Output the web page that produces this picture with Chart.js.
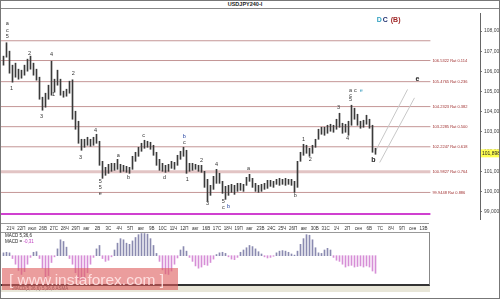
<!DOCTYPE html>
<html>
<head>
<meta charset="utf-8">
<script src="https://cdn.jsdelivr.net/npm/chart.js@4.4.1/dist/chart.umd.min.js"></script>
<style>
  html, body { margin: 0; padding: 0; }
  body { width: 500px; height: 299px; position: relative; overflow: hidden; background: #fff; font-family: "Liberation Sans", "DejaVu Sans", sans-serif; }
  #frame { position: absolute; left: 0; top: 0; width: 498px; height: 297px; border: 1px solid #777; }
  #head { position: absolute; left: 0; top: 0; width: 500px; height: 8px; border-bottom: 1px solid #888; }
  #title { position: absolute; left: 0; top: 1px; width: 490px; text-align: center; font: bold 5.5px "Liberation Sans", sans-serif; color: #222; line-height: 7px; }
  canvas { position: absolute; }
  #main { left: 0; top: 8px; }
  #macd { left: 0; top: 224px; }
  #strip { position: absolute; left: 0; top: 223px; width: 429px; height: 8px; border-top: 1px solid #999; border-bottom: 1px solid #999; }
  #panel { position: absolute; left: 0; top: 232px; width: 429px; height: 52px; border-right: 1px solid #888; border-bottom: 2px solid #333; }
  #beige { position: absolute; left: 0; top: 286px; width: 430px; height: 6px; background: #e8e6d8; }
  #foot { position: absolute; left: 12px; top: 286px; font: 4.5px "Liberation Sans", sans-serif; color: #555; }
  .mlab { position: absolute; left: 5px; font: 4.5px "Liberation Sans", sans-serif; color: #222; }
  #wm { position: absolute; left: 2px; top: 268px; width: 176px; height: 22px; background: rgba(222, 92, 92, 0.6);
        color: rgba(255, 228, 228, 0.92); font: 15.5px "Liberation Sans", sans-serif; line-height: 23px; white-space: nowrap; text-indent: 7px; }
</style>
</head>
<body>
<div id="head"></div>
<div id="title">USDJPY240-I</div>
<canvas id="main" width="500" height="216"></canvas>
<div id="strip"></div>
<div id="panel"></div>
<canvas id="macd" width="431" height="61"></canvas>
<div class="mlab" style="top:233px">MACD 5,36,6</div>
<div class="mlab" style="top:239px">MACD = <span style="color:#c040c0">-0,31</span></div>
<div id="beige"></div>
<div id="foot">MACD(5,36,6) 5,36,6 ASMA</div>
<div id="wm">[ www.instaforex.com ]</div>
<div id="frame"></div>
<script>
// 4h bars (one bar here ~ 1.7 source bars)
const lows = [
  106.3, 106.7, 105.9, 105.45, 105.7, 105.6, 105.65, 105.8, 106.0, 106.1,
  105.8, 105.55, 104.6, 104.05, 104.2, 104.6, 104.8, 104.95, 105.3, 104.8,
  104.7, 104.75, 104.9, 103.6, 103.1, 102.4, 102.05, 102.2, 102.3, 102.25,
  102.3, 102.4, 101.3, 100.65, 100.8, 100.9, 101.0, 101.05, 101.1, 100.95,
  101.0, 100.95, 100.9, 101.1, 101.5, 101.75, 102.0, 102.15, 102.2, 102.1,
  101.8, 101.3, 101.05, 101.0, 100.95, 101.0, 101.15, 101.1, 101.3, 101.6,
  101.75, 100.9, 101.0, 101.05, 101.1, 101.0, 100.95, 100.2, 99.5, 99.8,
  100.1, 100.4, 100.4, 99.9, 99.6, 99.8, 99.95, 99.85, 100.0, 100.05,
  100.0, 100.3, 100.5, 100.2, 100.0, 99.95, 100.0, 100.1, 100.15, 100.25,
  100.2, 100.35, 100.3, 100.35, 100.3, 100.35, 100.3, 99.95, 100.2, 101.5,
  101.8, 101.9, 101.75, 101.9, 102.2, 102.6, 102.85, 102.8, 102.9, 103.0,
  102.95, 103.1, 103.2, 102.9, 102.95, 102.8, 103.3, 103.6, 103.3, 103.15,
  103.2, 103.35, 103.15, 101.95, 101.85
];
const highs = [
  106.75, 107.42, 107.0, 106.3, 106.4, 106.1, 106.05, 106.3, 106.6, 106.75,
  106.4, 106.1, 105.7, 104.7, 104.9, 105.3, 106.5, 105.6, 106.05, 105.6,
  105.0, 105.1, 105.5, 105.57, 104.0, 103.5, 102.6, 102.6, 102.7, 102.6,
  102.7, 102.85, 102.5, 101.5, 101.2, 101.35, 101.4, 101.4, 101.6, 101.35,
  101.3, 101.25, 101.2, 101.75, 101.95, 102.2, 102.4, 102.55, 102.5, 102.45,
  102.3, 101.95, 101.6, 101.4, 101.3, 101.35, 101.5, 101.45, 101.8, 102.0,
  102.2, 102.05, 101.4, 101.4, 101.35, 101.3, 101.3, 101.0, 100.6, 100.3,
  100.75, 101.1, 100.9, 100.5, 100.25, 100.3, 100.35, 100.3, 100.4, 100.4,
  100.35, 100.7, 100.85, 100.65, 100.4, 100.3, 100.35, 100.4, 100.55, 100.55,
  100.5, 100.6, 100.65, 100.6, 100.65, 100.6, 100.6, 100.5, 101.5, 101.95,
  102.35, 102.3, 102.15, 102.3, 102.6, 103.1, 103.2, 103.2, 103.3, 103.35,
  103.3, 103.6, 103.9, 103.4, 103.35, 103.5, 104.3, 104.15, 103.85, 103.5,
  103.55, 103.8, 103.6, 103.3, 102.15
];
const macdHist = [
  0.05, 0.06, 0.05, -0.05, -0.15, -0.26, -0.33, -0.28, -0.15, -0.03,
  0.06, 0.07, -0.05, -0.22, -0.42, -0.35, -0.12, -0.02, 0.12, 0.28,
  0.25, 0.15, -0.05, -0.15, -0.3, -0.42, -0.46, -0.42, -0.3, -0.15,
  -0.03, 0.12, 0.18, -0.05, -0.1, -0.08, -0.02, 0.1, 0.22, 0.3,
  0.28, 0.22, 0.2, 0.26, 0.32, 0.37, 0.39, 0.39, 0.38, 0.3,
  0.18, 0.04, -0.1, -0.25, -0.32, -0.33, -0.27, -0.15, -0.04, 0.1,
  0.16, 0.08, -0.03, -0.1, -0.18, -0.22, -0.2, -0.16, -0.17, -0.12,
  -0.06, 0.02, 0.05, 0.06, 0.04, -0.02, -0.06, -0.07, -0.03, 0.06,
  0.1, 0.14, 0.18, 0.16, 0.12, 0.07, 0.03, -0.02, -0.04, -0.03,
  -0.01, 0.05, 0.08, 0.09, 0.08, 0.06, 0.03, 0.01, 0.08, 0.2,
  0.3, 0.37, 0.36, 0.28, 0.14, 0.05, 0.04, 0.1, 0.13, 0.1,
  -0.03, -0.08, -0.1, -0.15, -0.2, -0.18, -0.17, -0.2, -0.19, -0.18,
  -0.2, -0.18, -0.2, -0.27, -0.31
];

const fibLevels = [107.5187, 106.5322, 105.4765, 104.2323, 103.2285, 102.2247, 100.9827, 99.9448, 98.866];
const fibRatios = ["0", "0.114", "0.236", "0.382", "0.500", "0.618", "0.764", "0.886", "1"];
const priceTicks = [99, 100, 101, 102, 103, 104, 105, 106, 107, 108];
const lastPrice = 101.898;

const dayLabels = ["21Ч","22П","июл","26В","27С","28Ч","29П","авг","2В","3С","4Ч","5П","авг","9В","10С","11Ч","12П",
  "авг","16В","17С","18Ч","19П","авг","23В","24С","25Ч","26П","авг","30В","31С","1Ч","2П","сен","6В","7С","8Ч","9П","сен","13В"];

// wave marks: [bar, price, text, colour]
const waveLabels = [
  [1.3, 108.38, "a"], [1.3, 108.05, "c"], [1.3, 107.71, "5"],
  [2.7, 105.14, "1"], [8.7, 106.9, "2"], [16, 106.81, "4"], [16.7, 104.86, "1"], [23.3, 105.9, "2"],
  [12.7, 103.76, "3"], [30.7, 103.05, "4"], [25.7, 101.71, "3"],
  [32.3, 100.48, "5"], [32.3, 100.19, "5"], [32.3, 99.9, "e"],
  [38.3, 101.81, "a"], [41.7, 100.67, "b"], [46.7, 102.81, "c"], [53.7, 100.71, "d"],
  [60.3, 102.76, "b", "#2040a0"], [60.3, 102.43, "c"],
  [61.3, 100.57, "1"], [66, 101.52, "2"], [68, 99.38, "3"], [71, 101.33, "4"],
  [73.3, 99.48, "5"], [73.3, 99.19, "c"], [75, 99.24, "b", "#2040a0"],
  [81.7, 101.14, "a"], [97.3, 99.81, "b"], [100, 102.57, "1"], [102.3, 101.57, "2"],
  [111.7, 104.19, "3"], [114.7, 102.62, "4"],
  [115.7, 105.05, "a"], [115.7, 104.81, "c"], [115.7, 104.57, "5"],
  [117.3, 105.05, "c"], [119.3, 105.05, "e", "#40a0c0"]
];
const bigLabels = [
  [123.3, 101.57, "b", "#222"], [138, 105.62, "e", "#222"],
  [125.3, 108.57, "D", "#30a0c0"], [127.3, 108.57, "C", "#203070"], [130.7, 108.57, "(B)", "#a02828"]
];
const channelA = [{ x: 123.8, y: 101.95 }, { x: 134.7, y: 105.09 }];
const channelB = [{ x: 125.4, y: 101.44 }, { x: 137, y: 104.67 }];

const FIB_END = 142.3;      // fib lines stop at the right edge of the time strip
const FIRST_DAY = 2.33;     // bar position of the first day tick
const DAY_BARS = 3.623;     // bars per trading day
const HALF_PX = 0.5 / 3;    // shift so 1px bars land on whole pixels

function fibStyle(k) {
  if (k === fibLevels.length - 1) return { c: "#d040d0", w: 2 };
  if (fibRatios[k] === "0.764") return { c: "#e2c4c4", w: 3 };
  return { c: "#c49696", w: 1 };
}

const fibSets = fibLevels.map((lvl, k) => ({
  type: "line",
  data: [{ x: -1.5, y: lvl }, { x: FIB_END, y: lvl }],
  borderColor: fibStyle(k).c,
  borderWidth: fibStyle(k).w,
  pointRadius: 0,
  order: 3
}));

const labelPlugin = {
  id: "labels",
  afterDatasetsDraw(chart) {
    const { ctx, scales: { x, y } } = chart;
    ctx.save();
    ctx.textAlign = "center";
    ctx.textBaseline = "middle";
    ctx.font = "5.5px 'Liberation Sans', sans-serif";
    waveLabels.forEach(([b, p, t, c]) => {
      ctx.fillStyle = c || "#333";
      ctx.fillText(t, x.getPixelForValue(b), y.getPixelForValue(p));
    });
    ctx.font = "bold 7px 'Liberation Sans', sans-serif";
    bigLabels.forEach(([b, p, t, c]) => {
      ctx.fillStyle = c;
      ctx.fillText(t, x.getPixelForValue(b), y.getPixelForValue(p));
    });
    // fib captions
    ctx.textAlign = "left";
    ctx.font = "4px 'Liberation Sans', sans-serif";
    ctx.fillStyle = "#a03030";
    fibLevels.forEach((lvl, k) => {
      if (k === 0 || k === fibLevels.length - 1) return;
      ctx.fillText(lvl.toFixed(4) + " Rat " + fibRatios[k], x.getPixelForValue(FIB_END) + 2, y.getPixelForValue(lvl));
    });
    // current price box on the axis
    const py = y.getPixelForValue(lastPrice);
    ctx.fillStyle = "#ffff50";
    ctx.fillRect(chart.chartArea.right + 1, py - 4, 20, 8);
    ctx.fillStyle = "#222";
    ctx.font = "5px 'Liberation Sans', sans-serif";
    ctx.fillText(lastPrice.toFixed(3).replace(".", ","), chart.chartArea.right + 2, py);
    ctx.restore();
  }
};

new Chart(document.getElementById("main"), {
  data: {
    datasets: [
      {
        type: "bar",
        data: highs.map((h, i) => ({ x: i, y: [lows[i], h] })),
        backgroundColor: "#3a3a3a",
        barThickness: 1,
        grouped: false,
        order: 0
      },
      { type: "line", data: channelA, borderColor: "#c8c8c8", borderWidth: 1, pointRadius: 0, order: 1 },
      { type: "line", data: channelB, borderColor: "#c8c8c8", borderWidth: 1, pointRadius: 0, order: 1 },
      ...fibSets
    ]
  },
  options: {
    responsive: false,
    animation: false,
    layout: { padding: 0 },
    plugins: { legend: { display: false }, tooltip: { enabled: false } },
    scales: {
      x: { type: "linear", display: false, offset: false, min: -1 - HALF_PX, max: 159 - HALF_PX },
      y: {
        position: "right",
        min: 98.619,
        max: 108.905,
        afterBuildTicks: (s) => { s.ticks = priceTicks.map((v) => ({ value: v })); },
        afterFit: (s) => { s.width = 20; },
        ticks: {
          callback: (v) => v.toFixed(3).replace(".", ","),
          font: { size: 5, family: "Liberation Sans" },
          color: "#444",
          padding: 2
        },
        grid: { drawOnChartArea: false, tickLength: 2, color: "#777" },
        border: { color: "#666" }
      }
    }
  },
  plugins: [labelPlugin]
});

new Chart(document.getElementById("macd"), {
  type: "bar",
  data: {
    datasets: [{
      data: macdHist.map((v, i) => ({ x: i, y: v })),
      backgroundColor: macdHist.map((v) => (v >= 0 ? "#8a8ab0" : "#d68ed6")),
      barThickness: 1
    }]
  },
  options: {
    responsive: false,
    animation: false,
    layout: { padding: { left: 1, right: 2, top: 0, bottom: 0 } },
    plugins: { legend: { display: false }, tooltip: { enabled: false } },
    scales: {
      x: {
        type: "linear",
        position: "top",
        offset: false,
        min: -0.667 - HALF_PX,
        max: 142 - HALF_PX,
        afterBuildTicks: (s) => { s.ticks = dayLabels.map((_, k) => ({ value: FIRST_DAY + k * DAY_BARS })); },
        afterFit: (s) => { s.height = 8; },
        ticks: {
          autoSkip: false,
          maxRotation: 0,
          padding: 1,
          font: { size: 4.5, family: "Liberation Sans" },
          color: "#333",
          callback: (v, k) => dayLabels[k]
        },
        grid: { drawOnChartArea: false, tickLength: 0, offset: false },
        border: { display: false }
      },
      y: { display: false, min: -0.516, max: 0.417 }
    }
  }
});
</script>
</body>
</html>
